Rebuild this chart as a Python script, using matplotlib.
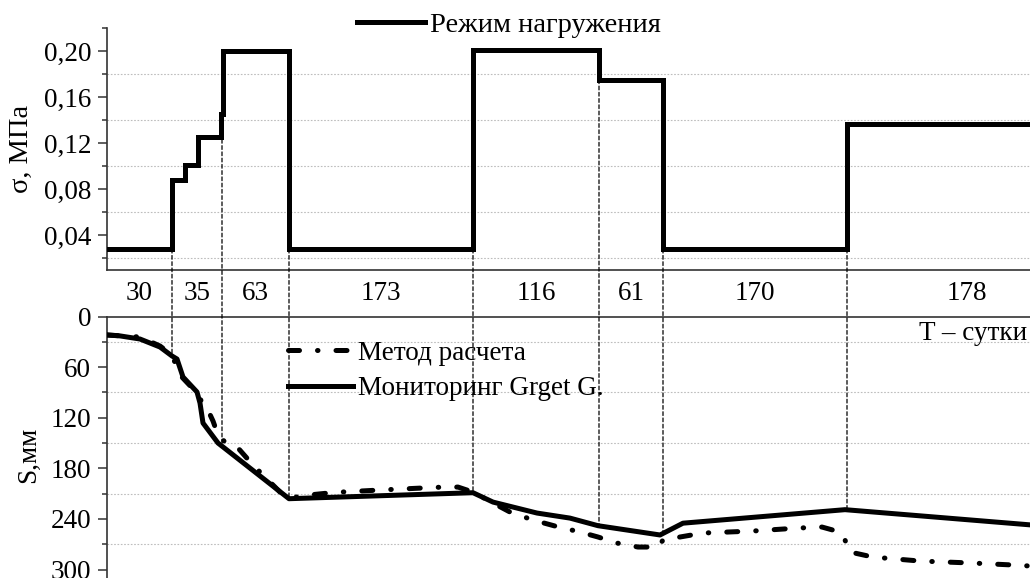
import numpy as np
import matplotlib
matplotlib.use("Agg")
import matplotlib.pyplot as plt
from matplotlib.lines import Line2D
from matplotlib.patches import ConnectionPatch
from matplotlib.ticker import MultipleLocator, FuncFormatter

plt.rcParams["font.family"] = ["Liberation Serif", "DejaVu Serif"]

# stages (days) and their edges on the drawn time axis
stage_days = [30, 35, 63, 173, 116, 61, 170, 178]
stage_edges = [0, 65, 115, 182, 366, 492, 556, 740, 980]

# loading regime, MPa (step edges on the same axis)
stress_x = [0, 65, 78, 91, 114, 116, 182, 366, 492, 556, 740, 980]
stress_v = [0.028, 0.088, 0.101, 0.125, 0.145, 0.200, 0.028, 0.201, 0.175, 0.028, 0.137, 0.137]

# settlement, mm - monitoring
mon_x = [0, 13, 33, 53, 65, 70, 76, 90, 93, 96, 111, 182, 366, 386, 430, 463, 491, 553, 576, 738, 923, 980]
mon_s = [21.9, 23.0, 26.7, 36.2, 46.8, 50.4, 71.7, 89.5, 102.6, 126.3, 150.0, 216.0,
         208.9, 220.0, 233.0, 239.0, 248.0, 259.0, 245.0, 229.0, 247.0, 252.5]

# settlement, mm - calculation method
calc_x = [0, 33, 53, 65, 73, 89, 95, 100, 106, 111, 118, 131, 146, 161, 173, 183,
          201, 228, 273, 330, 351, 366, 386, 403, 426, 448, 473, 491, 510, 531, 551,
          556, 573, 596, 646, 691, 715, 733, 738, 743, 766, 813, 866, 906, 923]
calc_s = [21.9, 24.3, 35.0, 45.7, 69.4, 89.5, 101.4, 108.5, 123.9, 140.5, 148.8, 155.9,
          176.1, 193.9, 208.1, 215.2, 211.7, 208.5, 205.7, 202.5, 202.2, 208.1, 221.1,
          231.8, 241.3, 248.4, 255.5, 261.4, 268.6, 273.3, 273.3, 265.0, 261.4, 256.7,
          254.3, 250.8, 249.6, 255.5, 265.0, 279.2, 285.2, 289.9, 292.3, 294.6, 295.8]

W, H = 1030, 578
FS = 19.5      # ticks, stage labels
fig = plt.figure(figsize=(W / 100, H / 100), dpi=100)
ax_top = fig.add_axes([107 / W, (H - 270) / H, 980 / W, 242 / H])
ax_bot = fig.add_axes([107 / W, 0, 980 / W, 261.5 / H])

spine_c = "#333333"
grid_kw = dict(color="#bdbdbd", linestyle=(0, (1.5, 1.5)), linewidth=0.8)

for ax in (ax_top, ax_bot):
    ax.set_xlim(0, 980)
    ax.set_xticks([])
    ax.spines["right"].set_visible(False)
    ax.spines["left"].set_color(spine_c)
    ax.spines["left"].set_linewidth(1.2)
    ax.tick_params(axis="y", which="major", direction="out", length=6.5, width=1.1,
                   pad=5.0, labelsize=FS, color=spine_c)
    ax.tick_params(axis="y", which="minor", direction="out", length=3.5, width=1.1,
                   color=spine_c)

# top: loading regime
ax_top.spines["top"].set_visible(False)
ax_top.spines["bottom"].set_color(spine_c)
ax_top.spines["bottom"].set_linewidth(1.2)
ax_top.set_ylim(0.01, 0.22)
ax_top.yaxis.set_major_locator(MultipleLocator(0.04))
ax_top.yaxis.set_major_formatter(FuncFormatter(lambda v, p: f"{v:.2f}".replace(".", ",")))
ax_top.set_yticks([0.02, 0.06, 0.10, 0.14, 0.18, 0.22], minor=True)
for g in [0.02, 0.06, 0.10, 0.14, 0.18]:
    ax_top.axhline(g, zorder=0, **grid_kw)
ax_top.step(stress_x, stress_v, where="post", color="black", lw=3.6,
            solid_joinstyle="miter", zorder=3)
ax_top.set_ylabel("σ, МПа", fontsize=20.5, va="center")
ax_top.yaxis.set_label_coords(-0.087, 0.5)
ax_top.legend(handles=[Line2D([], [], color="black", lw=3.6)], labels=["Режим нагружения"],
              loc="center left", bbox_to_anchor=(357 / W, 1 - 25 / H),
              bbox_transform=fig.transFigure, frameon=False, borderpad=0,
              borderaxespad=0, handlelength=2.39, handletextpad=0.18, fontsize=20.5)

# bottom: settlements
ax_bot.spines["bottom"].set_visible(False)
ax_bot.spines["top"].set_color(spine_c)
ax_bot.spines["top"].set_linewidth(1.2)
ax_bot.set_ylim(310, 0)
ax_bot.set_yticks([0, 60, 120, 180, 240, 300])
ax_bot.set_yticks([30, 90, 150, 210, 270], minor=True)
for g in [30, 90, 150, 210, 270]:
    ax_bot.axhline(g, zorder=0, **grid_kw)
ln_calc, = ax_bot.plot(calc_x, calc_s, color="black", lw=3.6, dashes=(2.2, 3.6, 0.1, 3.6),
                       dash_capstyle="round", zorder=3, label="Метод расчета")
ln_mon, = ax_bot.plot(mon_x, mon_s, color="black", lw=3.6, zorder=4,
                      label="Мониторинг Grget G.")
ax_bot.set_ylabel("S,мм", fontsize=FS, va="center")
ax_bot.yaxis.set_label_coords(-0.080, 0.47)
ax_bot.legend(handles=[ln_calc, ln_mon], loc="center left",
              bbox_to_anchor=(288 / W, 1 - 371 / H), bbox_transform=fig.transFigure,
              frameon=False, borderpad=0, borderaxespad=0, handlelength=2.4,
              handletextpad=0.19, labelspacing=0.4, fontsize=19.5)
fig.text(1027 / W, 1 - 333 / H, "T – сутки", ha="right", va="center", fontsize=FS)

# stage labels between the panels
for i, d in enumerate(stage_days):
    mid = (stage_edges[i] + stage_edges[i + 1]) / 2
    xf = ax_top.transData.transform((mid, 0))[0]
    fig.text(xf / W, 1 - 294 / H, str(d), ha="center", va="center", fontsize=FS)

# dashed stage boundaries, from the loading step down to the monitoring curve
for e in stage_edges[1:-1]:
    i = np.searchsorted(stress_x, e, side="right") - 1
    lo = min(stress_v[i], stress_v[i - 1]) if stress_x[i] == e else stress_v[i]
    s = np.interp(e, mon_x, mon_s)
    con = ConnectionPatch(xyA=(e, lo), coordsA=ax_top.transData,
                          xyB=(e, s), coordsB=ax_bot.transData,
                          color="black", lw=0.9, linestyle=(0, (3, 2)), zorder=2)
    fig.add_artist(con)

fig.savefig("out.png", dpi=100)
